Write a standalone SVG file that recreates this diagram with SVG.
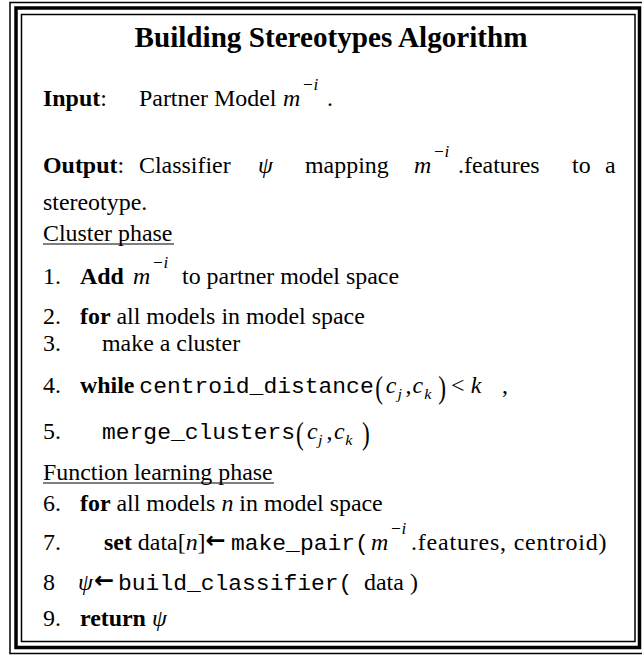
<svg xmlns="http://www.w3.org/2000/svg" width="642" height="658" viewBox="0 0 642 658">
<style>
text{font-family:"Liberation Serif","Times New Roman",serif;font-size:23px;fill:#000}
.b{font-weight:bold}
.i{font-style:italic}
.m{font-family:"Liberation Mono","Courier New",monospace;font-size:22.1px}
.s{font-size:16.5px;font-style:italic}
.sb{font-size:15.5px;font-style:italic}
.ttl{font-size:29px;font-weight:bold}
.fr{fill:none;stroke:#000}
.ul{stroke:#000;stroke-width:1.2}
.ar{font-family:"DejaVu Sans",sans-serif;font-size:23px;font-weight:bold}
.p{font-size:32px}
</style>
<g id="frame">
<rect class="fr" x="10" y="2.5" width="633" height="651" stroke-width="1.5"/>
<rect class="fr" x="16" y="8" width="623.5" height="639.5" stroke-width="3.5"/>
<rect class="fr" x="21.5" y="14.5" width="613.5" height="627" stroke-width="1.5"/>
</g>
<g id="underlines">
<line class="ul" x1="43" y1="244" x2="174" y2="244"/>
<line class="ul" x1="43" y1="483" x2="274" y2="483"/>
</g>
<g id="text" transform="scale(1.04 1)">
<g id="title">
<text class="ttl" x="318.3" y="47" text-anchor="middle" textLength="378" lengthAdjust="spacingAndGlyphs">Building Stereotypes Algorithm</text>
</g>
<g id="input">
<text x="41.35" y="106"><tspan class="b">Input</tspan>:</text>
<text x="133.65" y="106">Partner Model</text>
<text class="i" x="272.1" y="106">m</text>
<text class="s" x="290.4" y="90">−i</text>
<text x="314.4" y="106">.</text>
</g>
<g id="output">
<text x="41.35" y="173"><tspan class="b">Output</tspan>:</text>
<text x="133.65" y="173">Classifier</text>
<text class="i" x="248.1" y="173">ψ</text>
<text x="293.3" y="173">mapping</text>
<text class="i" x="398.1" y="173">m</text>
<text class="s" x="416.3" y="157">−i</text>
<text x="440.4" y="173">.features</text>
<text x="550" y="173">to</text>
<text x="581.7" y="173">a</text>
<text x="41.35" y="210">stereotype.</text>
</g>
<g id="cluster-phase">
<text x="41.35" y="241">Cluster phase</text>
<text x="41.35" y="284">1.</text>
<text class="b" x="76.9" y="284">Add</text>
<text class="i" x="127.9" y="284">m</text>
<text class="s" x="146.2" y="268">−i</text>
<text x="175" y="284">to partner model space</text>
<text x="41.35" y="324">2.</text>
<text x="76.9" y="324"><tspan class="b">for</tspan> all models in model space</text>
<text x="41.35" y="351">3.</text>
<text x="98.1" y="351">make a cluster</text>
<text x="41.35" y="393">4.</text>
<text class="b" x="76.9" y="393">while</text>
<text class="m" x="134" y="393">centroid_distance</text>
<text class="p" transform="translate(360.8 398) scale(0.7 1)">(</text>
<text class="i" x="371" y="393">c</text>
<text class="sb" x="382.3" y="399">j</text>
<text x="390" y="393">,</text>
<text class="i" x="396.7" y="393">c</text>
<text class="sb" x="408" y="399">k</text>
<text class="p" transform="translate(421.5 398) scale(0.7 1)">)</text>
<text x="433.7" y="393">&lt;</text>
<text class="i" x="452.6" y="393">k</text>
<text x="482.7" y="393">,</text>
<text x="41.35" y="439">5.</text>
<text class="m" x="98.1" y="439">merge_clusters</text>
<text class="p" transform="translate(284.6 444) scale(0.7 1)">(</text>
<text class="i" x="295.2" y="439">c</text>
<text class="sb" x="305.8" y="445">j</text>
<text x="313.9" y="439">,</text>
<text class="i" x="321.2" y="439">c</text>
<text class="sb" x="332.1" y="445">k</text>
<text class="p" transform="translate(348.1 444) scale(0.7 1)">)</text>
</g>
<g id="function-phase">
<text x="41.35" y="480">Function learning phase</text>
<text x="41.35" y="511">6.</text>
<text x="76.9" y="511"><tspan class="b">for</tspan> all models <tspan class="i">n</tspan> in model space</text>
<text x="41.35" y="550">7.</text>
<text x="100" y="550"><tspan class="b">set</tspan> data[<tspan class="i">n</tspan>]</text>
<text class="ar" x="197.6" y="548">←</text>
<text class="m" x="222.1" y="550">make_pair(</text>
<text class="i" x="356.7" y="550">m</text>
<text class="s" x="375" y="534">−i</text>
<text x="395.2" y="550" textLength="188" lengthAdjust="spacing">.features, centroid)</text>
<text x="41.35" y="590">8</text>
<text class="i" x="75" y="590">ψ</text>
<text class="ar" x="90.4" y="588">←</text>
<text class="m" x="113.5" y="590">build_classifier(</text>
<text x="350" y="590">data</text>
<text x="394.2" y="590">)</text>
<text x="41.35" y="626">9.</text>
<text x="76.9" y="626"><tspan class="b">return</tspan> <tspan class="i">ψ</tspan></text>
</g>
</g>
</svg>
